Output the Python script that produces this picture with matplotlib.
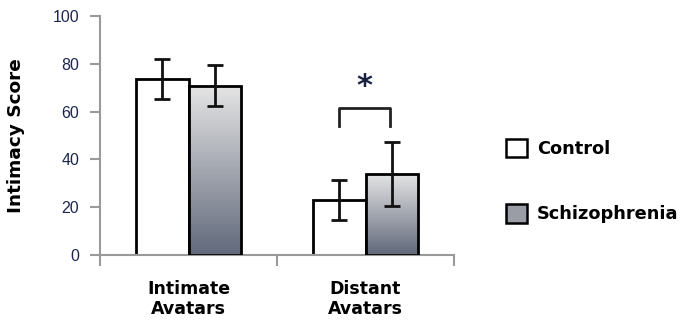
import numpy as np
import matplotlib
matplotlib.use("Agg")
import matplotlib.pyplot as plt
from matplotlib.patches import Patch

categories = ["Intimate\nAvatars", "Distant\nAvatars"]
series = ["Control", "Schizophrenia"]
control_vals = [73.5, 23.0]
control_err = [8.4, 8.4]
schiz_vals = [70.8, 33.9]
schiz_err = [8.5, 13.5]
yticks = [0, 20, 40, 60, 80, 100]

fig = plt.figure(figsize=(6.86, 3.26), dpi=100)
ax = fig.add_axes([100/686, 1-255/326, 354/686, (255-16)/326])

x = np.arange(len(categories))
w = 0.295
tick_color = "#1c2650"

# gradient image
grad = np.linspace(0, 1, 256).reshape(-1, 1)
top = np.array([0.90, 0.90, 0.90])
bot = np.array([0.38, 0.41, 0.48])
img = top[None, None, :] * (1 - grad[:, :, None]) + bot[None, None, :] * grad[:, :, None]

bars_c = ax.bar(x - w/2, control_vals, w, color="white", edgecolor="black", linewidth=2, zorder=2)
bars_s = ax.bar(x + w/2, schiz_vals, w, color="none", edgecolor="black", linewidth=2, zorder=3)
for b in bars_s:
    x0, y0 = b.get_x(), b.get_y()
    im = ax.imshow(img, extent=[x0, x0 + b.get_width(), y0, y0 + b.get_height()],
                   origin="upper", aspect="auto", zorder=2.5)
    im.set_clip_path(b)

ax.errorbar(x - w/2, control_vals, yerr=control_err, fmt="none", ecolor="#111111",
            elinewidth=2, capsize=5.5, capthick=2, zorder=4)
ax.errorbar(x + w/2, schiz_vals, yerr=schiz_err, fmt="none", ecolor="#111111",
            elinewidth=2, capsize=5.5, capthick=2, zorder=4)

# significance bracket
bx0, bx1 = x[1] - 0.15, x[1] + 0.14
ax.plot([bx0, bx0, bx1, bx1], [54, 61.5, 61.5, 54], color="#222222", lw=2, zorder=4)
ax.text(x[1] - 0.005, 70.5, "*", ha="center", va="center", fontsize=22, fontweight="bold",
        color="#1a2040", family="DejaVu Sans")

ax.set_xlim(-0.5, 1.5)
ax.set_ylim(0, 100)
ax.set_xticks(x)
ax.set_xticklabels(categories, fontsize=12.5, fontweight="bold", family="DejaVu Sans",
                   linespacing=1.15)
ax.set_xticks([-0.5, 0.5, 1.5], minor=True)
ax.tick_params(axis="x", which="major", length=0, pad=18)
ax.tick_params(axis="x", which="minor", length=8, color="#999999", width=1.5, direction="out")
ax.set_yticks(yticks)
ax.set_yticklabels([str(v) for v in yticks], fontsize=11.5, color=tick_color,
                   family="Liberation Sans")
ax.tick_params(axis="y", length=7, color="#999999", width=1.5, pad=8)
for s in ["top", "right"]:
    ax.spines[s].set_visible(False)
for s in ["left", "bottom"]:
    ax.spines[s].set_color("#999999")
    ax.spines[s].set_linewidth(1.5)
ax.spines["left"].set_bounds(0, 100)

ax.set_ylabel("Intimacy Score", fontsize=13.3, fontweight="bold", family="DejaVu Sans",
              labelpad=20)

handles = [Patch(facecolor="white", edgecolor="black", linewidth=1.8),
           Patch(facecolor="#9a9da5", edgecolor="black", linewidth=1.8)]
leg = fig.legend(handles, series, loc="upper left", bbox_to_anchor=(506/686, 1-139/326),
                 frameon=False, prop={"family": "DejaVu Sans", "weight": "bold", "size": 12.8},
                 handlelength=1.2, handleheight=1.2, labelspacing=2.6, handletextpad=0.55,
                 borderpad=0, borderaxespad=0)

fig.savefig("out.png", dpi=100)
